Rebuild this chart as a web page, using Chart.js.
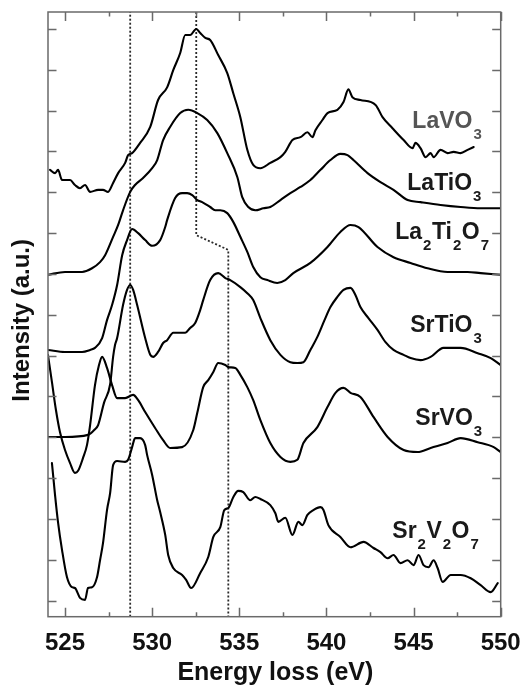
<!DOCTYPE html>
<html>
<head>
<meta charset="utf-8">
<script src="https://cdn.jsdelivr.net/npm/chart.js@4/dist/chart.umd.min.js"></script>
<style>
  html, body { margin: 0; padding: 0; background: #ffffff; }
  canvas { display: block; }
</style>
</head>
<body>
<canvas id="c" width="521" height="692"></canvas>
<script>
// ---------- data: [energy loss (eV), intensity (a.u., offset)] ----------
const LaVO3 = [[524.14,10.55],[524.43,10.47],[524.60,10.55],[524.83,10.30],[525.29,10.30],[525.57,10.18],[525.86,10.10],[526.15,10.18],[526.44,10.01],[526.90,10.06],[527.18,10.06],[527.47,10.01],[527.76,10.23],[528.05,10.47],[528.45,10.72],[528.62,10.91],[528.85,10.96],[529.31,11.21],[529.89,11.60],[530.34,12.26],[530.86,12.57],[531.21,12.99],[531.61,13.41],[531.90,13.85],[532.18,13.85],[532.53,14.00],[532.76,13.90],[533.05,13.78],[533.33,13.73],[533.79,13.36],[534.31,12.92],[534.66,12.42],[535.06,11.84],[535.46,11.04],[535.80,10.67],[536.21,10.59],[536.78,10.72],[537.36,10.86],[537.64,10.99],[538.05,11.28],[538.51,11.35],[538.91,11.47],[539.20,11.35],[539.37,11.52],[539.77,11.77],[540.06,11.94],[540.63,12.02],[540.98,12.21],[541.26,12.52],[541.49,12.33],[541.95,12.26],[542.82,12.14],[543.22,11.84],[543.79,11.57],[544.43,11.28],[544.94,11.08],[545.11,11.21],[545.40,11.08],[545.69,10.86],[545.98,10.96],[546.15,10.86],[546.55,11.04],[546.95,10.96],[547.30,10.99],[547.70,10.96],[548.10,11.04],[548.45,11.11]];

const LaTiO3 = [[524.02,7.98],[525.00,8.05],[525.98,8.05],[526.55,8.14],[527.01,8.29],[527.30,8.46],[527.76,8.91],[528.05,9.20],[528.33,9.56],[528.74,10.01],[529.02,10.18],[529.48,10.35],[530.00,10.59],[530.29,10.79],[530.63,11.28],[531.03,11.60],[531.61,11.94],[532.07,12.02],[532.59,11.94],[533.16,11.77],[533.74,11.45],[534.31,10.96],[534.89,10.37],[535.17,9.88],[535.52,9.64],[535.92,9.56],[536.38,9.61],[536.78,9.64],[537.36,9.81],[537.93,9.98],[538.51,10.13],[539.08,10.30],[539.66,10.55],[540.23,10.79],[540.80,10.94],[541.21,10.91],[541.55,10.79],[542.36,10.47],[543.10,10.25],[543.85,10.06],[544.66,9.81],[545.40,9.76],[546.55,9.69],[547.70,9.64],[548.85,9.61],[550.00,9.61]];

const La2Ti2O7 = [[524.02,6.14],[525.00,6.09],[525.98,6.09],[526.44,6.14],[526.72,6.19],[527.13,6.43],[527.41,6.87],[527.70,7.24],[527.99,7.73],[528.28,8.46],[528.56,8.83],[528.85,9.10],[529.20,9.00],[529.60,8.83],[530.00,8.69],[530.46,8.83],[530.75,9.15],[530.86,9.32],[531.32,9.86],[531.72,9.98],[532.01,9.98],[532.30,9.93],[532.59,9.81],[532.87,9.76],[533.33,9.64],[533.62,9.56],[533.91,9.56],[534.31,9.49],[534.66,9.27],[535.06,8.91],[535.46,8.54],[535.80,8.17],[536.21,7.92],[536.61,7.85],[537.18,7.78],[537.64,7.85],[538.10,8.02],[539.08,8.27],[540.06,8.66],[540.80,9.03],[541.38,9.20],[541.84,9.15],[542.93,8.66],[543.85,8.41],[544.83,8.27],[545.80,8.14],[546.95,8.05],[548.10,8.05],[548.85,8.02],[550.00,7.98]];

const SrTiO3 = [[524.02,4.01],[525.00,4.01],[526.32,4.06],[526.72,4.20],[526.90,4.30],[527.24,4.85],[527.59,5.30],[527.76,5.97],[527.87,6.26],[527.99,6.43],[528.33,7.24],[528.56,7.61],[528.74,7.73],[528.91,7.61],[529.14,7.24],[529.60,6.43],[529.89,6.02],[530.06,5.97],[530.34,6.09],[530.63,6.31],[530.86,6.38],[531.21,6.56],[531.90,6.56],[532.18,6.68],[532.47,6.80],[532.76,7.12],[532.93,7.36],[533.33,7.85],[533.79,8.02],[534.20,7.90],[534.48,7.85],[535.06,7.68],[535.46,7.53],[535.80,7.36],[536.21,6.92],[536.78,6.38],[537.36,6.02],[537.93,5.84],[538.33,5.82],[538.68,5.84],[539.08,6.14],[539.48,6.46],[539.89,6.87],[540.23,7.19],[540.63,7.44],[540.98,7.61],[541.38,7.66],[541.67,7.48],[541.95,7.19],[542.41,6.92],[542.93,6.63],[543.39,6.33],[543.85,6.14],[544.43,6.02],[544.83,5.94],[545.40,5.89],[545.98,5.97],[546.72,6.19],[547.70,6.19],[548.68,6.06],[549.43,5.94],[550.00,5.77]];

const SrVO3 = [[524.02,6.02],[524.25,5.35],[524.48,4.67],[524.71,4.13],[525.00,3.69],[525.29,3.37],[525.57,3.13],[525.75,3.18],[526.03,3.49],[526.26,3.81],[526.44,4.30],[526.72,5.28],[526.95,5.77],[527.13,5.97],[527.41,5.70],[527.70,5.28],[527.99,4.96],[528.45,4.96],[528.91,5.04],[529.20,4.91],[529.60,4.62],[530.17,4.23],[530.63,3.93],[531.03,3.74],[531.72,3.76],[532.36,4.18],[532.59,4.60],[532.93,5.23],[533.22,5.40],[533.51,5.60],[533.79,5.82],[534.20,5.77],[534.37,5.72],[534.77,5.70],[535.06,5.53],[535.46,5.23],[535.80,4.91],[536.21,4.42],[536.78,3.86],[537.36,3.52],[537.93,3.40],[538.33,3.45],[538.68,3.86],[539.48,4.25],[540.06,4.74],[540.52,5.09],[540.98,5.21],[541.38,5.09],[541.95,4.99],[542.70,4.50],[543.51,4.01],[544.43,3.69],[545.23,3.64],[545.98,3.74],[546.95,3.86],[547.70,3.98],[548.68,3.88],[549.60,3.76],[550.00,3.64]];

const Sr2V2O7 = [[524.25,3.37],[524.43,2.58],[524.60,1.92],[524.83,1.24],[525.11,0.58],[525.40,0.33],[525.57,0.31],[525.86,0.07],[526.15,0.02],[526.32,0.31],[526.55,0.33],[526.84,0.58],[527.01,0.99],[527.18,1.41],[527.41,2.22],[527.59,2.64],[527.76,3.32],[527.99,3.42],[528.45,3.40],[528.62,3.45],[528.85,3.76],[529.02,3.98],[529.31,3.98],[529.60,3.81],[529.71,3.57],[530.00,3.08],[530.29,2.46],[530.46,2.17],[530.75,1.61],[530.92,1.12],[531.21,0.80],[531.72,0.63],[531.95,0.51],[532.24,0.31],[532.76,0.68],[533.22,1.07],[533.51,1.56],[533.91,1.80],[534.14,2.22],[534.37,2.27],[534.66,2.54],[534.94,2.69],[535.23,2.66],[535.63,2.46],[535.92,2.54],[536.21,2.49],[536.78,2.34],[537.07,2.14],[537.24,1.93],[537.64,2.03],[538.05,1.61],[538.39,1.93],[538.62,1.85],[538.91,2.10],[539.25,2.22],[539.66,2.29],[539.83,2.22],[540.11,1.85],[540.80,1.56],[541.38,1.31],[542.13,1.44],[542.70,1.29],[543.10,1.19],[543.51,1.04],[543.85,1.12],[544.25,0.92],[544.66,0.99],[545.00,0.87],[545.29,1.12],[545.57,0.87],[545.86,0.82],[546.15,0.99],[546.38,0.80],[546.67,0.46],[547.13,0.63],[547.70,0.63],[548.28,0.55],[548.85,0.38],[549.43,0.21],[549.83,0.43]];

// guide lines (dotted): vertical at 528.7 eV; 532.5 eV stepping to 534.4 eV
const guideA = [[528.74,-0.392],[528.74,14.415]];
const guideB = [[532.53,14.415],[532.53,8.95],[534.37,8.59],[534.37,-0.392]];

// series labels: text ("_" marks a subscript digit), [energy, intensity] of the label's left baseline
const seriesLabels = [
  ['LaVO_3',     [544.93, 11.57], '#555555'],
  ['LaTiO_3',    [544.64, 10.06], '#1a1a1a'],
  ['La_2Ti_2O_7',[543.95, 8.86],  '#1a1a1a'],
  ['SrTiO_3',    [544.81, 6.58],  '#1a1a1a'],
  ['SrVO_3',     [545.10, 4.30],  '#1a1a1a'],
  ['Sr_2V_2O_7', [543.78, 1.54],  '#1a1a1a']
];

// axis ticks
const xTicks = [525, 527.5, 530, 532.5, 535, 537.5, 540, 542.5, 545, 547.5, 550];
const yTicks = [0,1,2,3,4,5,6,7,8,9,10,11,12,13,14];
const xRange = [524.024, 550];
const yRange = [-0.392, 14.415];
const xTitle = 'Energy loss (eV)';
const yTitle = 'Intensity (a.u.)';

// ---------- styling ----------
const FONT = '"Liberation Sans", Arial, Helvetica, sans-serif';
const FRAME = '#6a6a6a';
const toXY = arr => arr.map(p => ({x: p[0], y: p[1]}));

const spectrum = arr => ({
  data: toXY(arr), showLine: true, borderColor: '#000', borderWidth: 2.1,
  pointRadius: 0, cubicInterpolationMode: 'monotone', fill: false,
  borderJoinStyle: 'round', borderCapStyle: 'round'
});
const guide = arr => ({
  data: toXY(arr), showLine: true, borderColor: '#2a2a2a', borderWidth: 1.8,
  borderDash: [2, 2], pointRadius: 0, tension: 0, fill: false
});

const framePlugin = {
  id: 'frame',
  afterDraw(chart) {
    const {ctx, chartArea: a, scales: {x, y}} = chart;
    ctx.save();
    ctx.strokeStyle = FRAME;
    ctx.lineWidth = 1.5;
    ctx.strokeRect(a.left, a.top, a.right - a.left, a.bottom - a.top);
    ctx.beginPath();
    xTicks.forEach(v => {
      const px = Math.round(x.getPixelForValue(v)) + 0.5;
      const len = (v % 5 === 0) ? 9 : 4.5;
      ctx.moveTo(px, a.bottom); ctx.lineTo(px, a.bottom - len);
      ctx.moveTo(px, a.top); ctx.lineTo(px, a.top + len);
    });
    yTicks.forEach(v => {
      const py = Math.round(y.getPixelForValue(v)) + 0.5;
      ctx.moveTo(a.left, py); ctx.lineTo(a.left + 8.5, py);
      ctx.moveTo(a.right, py); ctx.lineTo(a.right - 8.5, py);
    });
    ctx.stroke();
    // axis titles
    ctx.fillStyle = '#111';
    ctx.font = 'bold 25px ' + FONT;
    ctx.textAlign = 'center';
    ctx.textBaseline = 'middle';
    ctx.fillText(xTitle, (a.left + a.right) / 2 + 1, 673);
    ctx.font = 'bold 24px ' + FONT;
    ctx.translate(22.5, (a.top + a.bottom) / 2 + 6);
    ctx.rotate(-Math.PI / 2);
    ctx.fillText(yTitle, 0, 0);
    ctx.restore();
  }
};

const labelPlugin = {
  id: 'seriesLabels',
  afterDatasetsDraw(chart) {
    const {ctx, scales: {x, y}} = chart;
    ctx.save();
    ctx.textAlign = 'left';
    ctx.textBaseline = 'alphabetic';
    seriesLabels.forEach(([text, at, color]) => {
      let px = x.getPixelForValue(at[0]);
      const py = y.getPixelForValue(at[1]);
      ctx.fillStyle = color;
      const parts = text.split(/(_\d)/).filter(s => s.length);
      parts.forEach(p => {
        if (p[0] === '_') {
          ctx.font = 'bold 15px ' + FONT;
          ctx.fillText(p.slice(1), px + 1, py + 11);
          px += ctx.measureText(p.slice(1)).width + 1.5;
        } else {
          ctx.font = 'bold 23px ' + FONT;
          ctx.fillText(p, px, py);
          px += ctx.measureText(p).width;
        }
      });
    });
    ctx.restore();
  }
};

new Chart(document.getElementById('c').getContext('2d'), {
  type: 'scatter',
  data: {
    datasets: [
      spectrum(LaVO3), spectrum(LaTiO3), spectrum(La2Ti2O7),
      spectrum(SrTiO3), spectrum(SrVO3), spectrum(Sr2V2O7),
      guide(guideA), guide(guideB)
    ]
  },
  options: {
    responsive: false,
    animation: false,
    events: [],
    layout: { padding: { left: 48, right: 20.3, top: 12, bottom: 0 } },
    plugins: { legend: { display: false }, tooltip: { enabled: false } },
    scales: {
      x: {
        type: 'linear', min: xRange[0], max: xRange[1],
        grid: { display: false, drawTicks: false },
        border: { display: false },
        afterBuildTicks: s => { s.ticks = xTicks.map(v => ({ value: v })); },
        afterFit: s => { s.height = 75.3; s.paddingLeft = 0; s.paddingRight = 0; },
        ticks: {
          autoSkip: false, maxRotation: 0, padding: 12, color: '#111',
          font: { family: FONT, size: 24, weight: 'bold' },
          callback: v => (v % 5 === 0 ? String(v) : '')
        }
      },
      y: { display: false, min: yRange[0], max: yRange[1] }
    }
  },
  plugins: [framePlugin, labelPlugin]
});
</script>
</body>
</html>
